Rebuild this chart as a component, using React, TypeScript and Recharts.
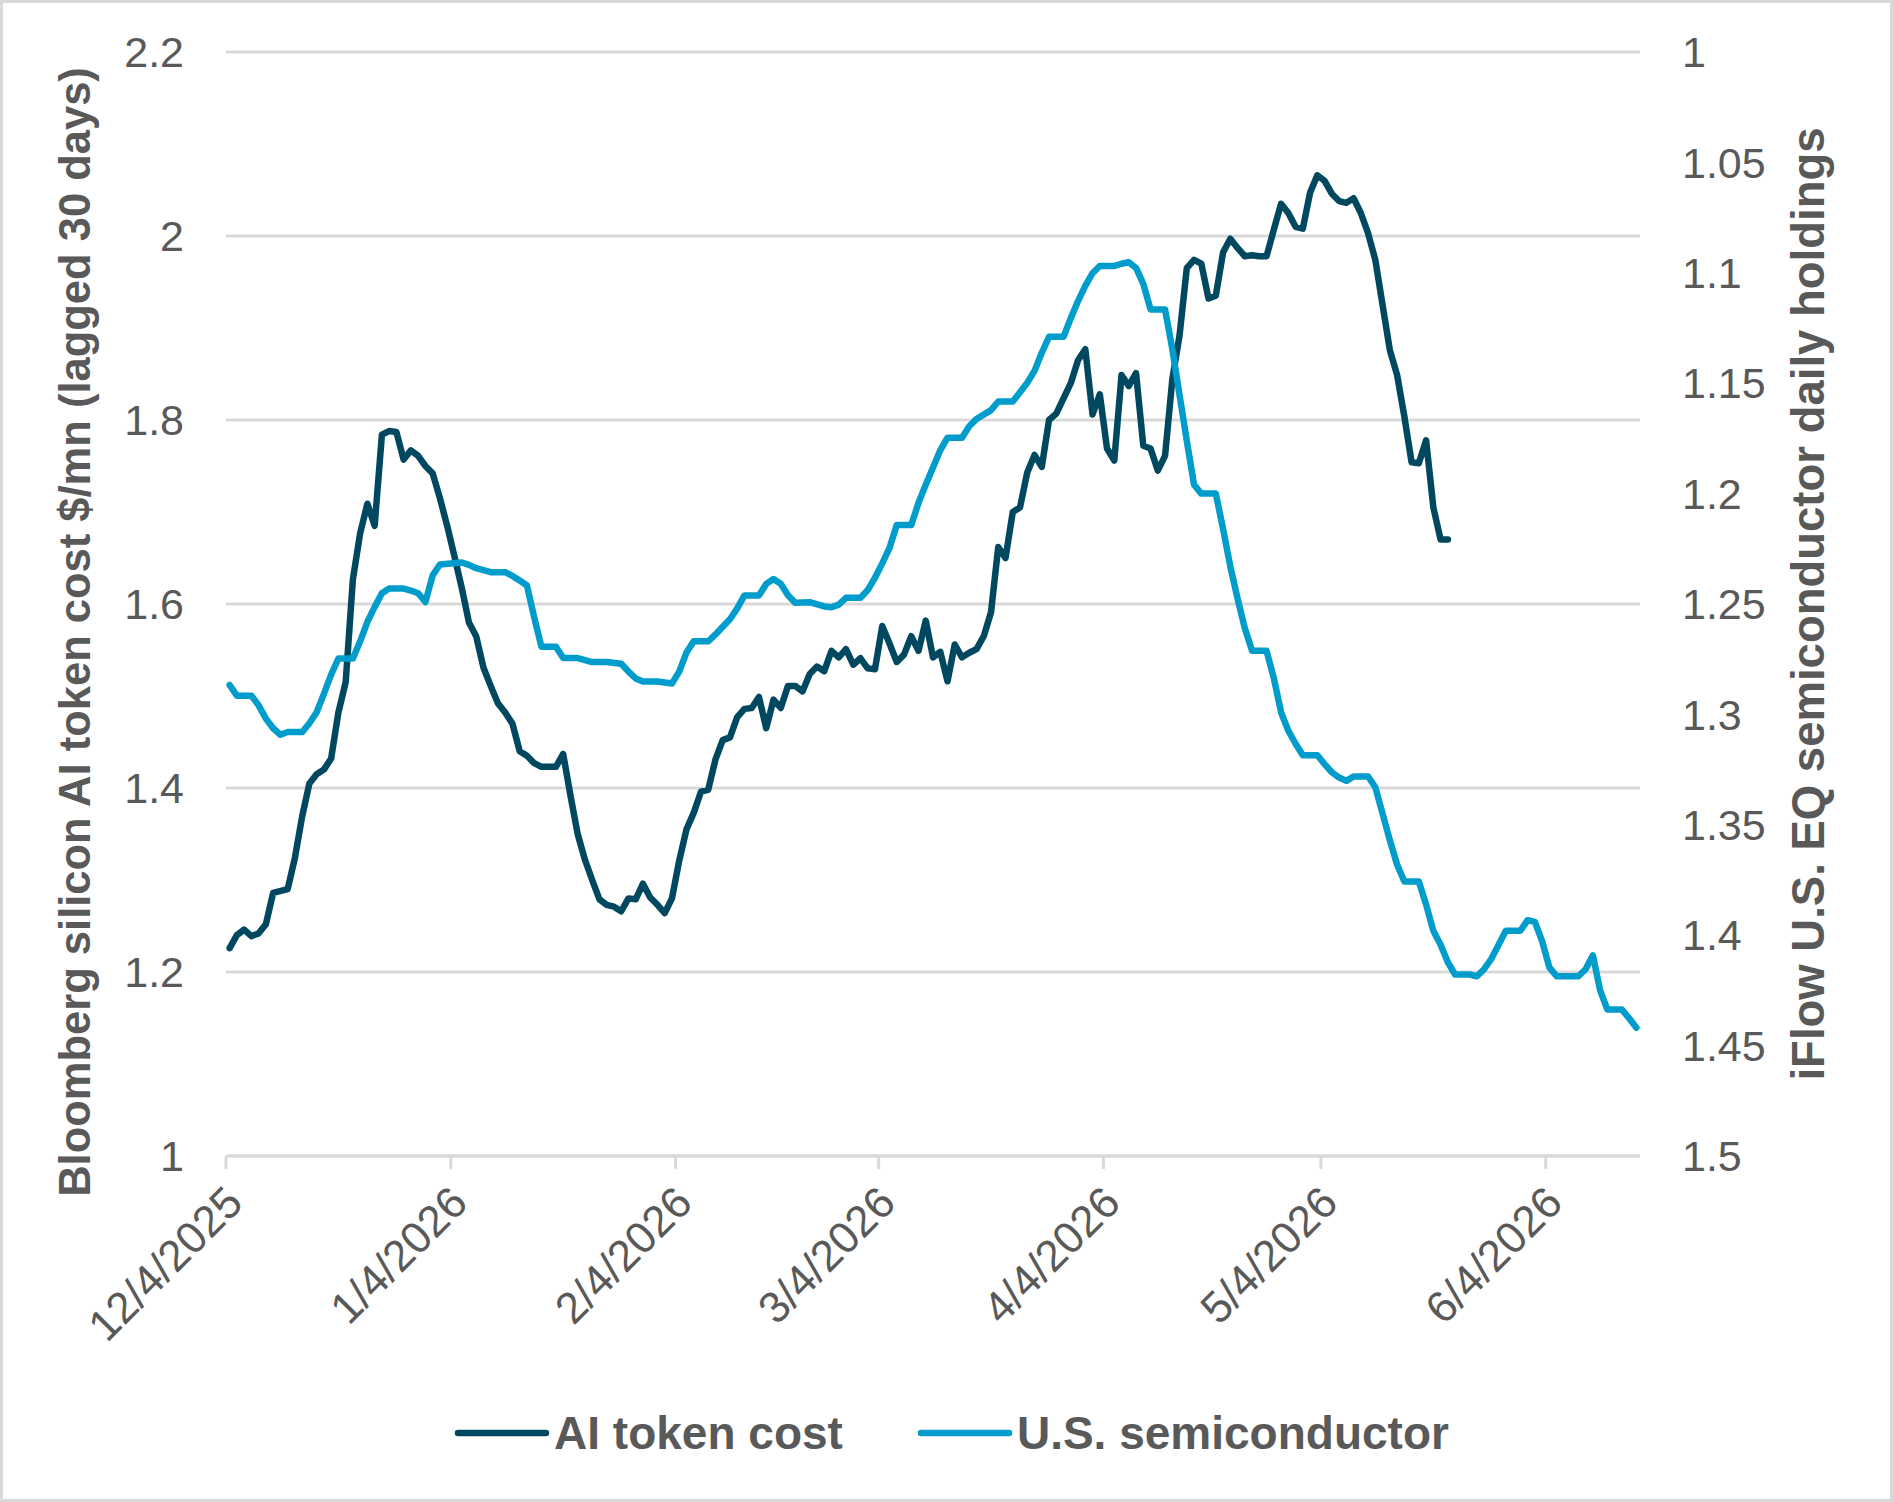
import { CartesianGrid, Legend, Line, LineChart, XAxis, YAxis } from 'recharts'

// Days counted from 12/4/2025; each series is plotted in the middle of its day slot.
const tokenDays = [
  0, 1, 2, 3, 4, 5, 6, 8, 9, 10, 11, 12, 13, 14, 15, 16, 17, 18, 19, 20, 21, 22, 23, 24, 25, 26, 27, 28, 29, 30,
  31, 32, 33, 34, 35, 36, 37, 38, 39, 40, 41, 42, 43, 45, 46, 47, 48, 49, 50, 51, 52, 53, 54, 55, 56, 57, 58, 59,
  60, 61, 62, 63, 64, 65, 66, 67, 68, 69, 70, 71, 72, 73, 74, 75, 76, 77, 78, 79, 80, 81, 82, 83, 84, 85, 86, 87,
  88, 89, 90, 91, 92, 93, 94, 95, 96, 97, 98, 99, 100, 101, 102, 103, 104, 105, 106, 107, 108, 109, 110, 111, 112,
  113, 114, 116, 117, 118, 119, 120, 121, 122, 123, 124, 125, 126, 127, 128, 129, 130, 131, 132, 133, 134, 135,
  136, 137, 138, 139, 140, 141, 142, 143, 144, 145, 146, 147, 148, 149, 150, 151, 152, 153, 154, 155, 156, 157,
  158, 159, 160, 161, 162, 163, 164, 165, 166, 167, 168,
]
const tokenCost = [
  1.226, 1.24, 1.246, 1.239, 1.242, 1.252, 1.286, 1.29, 1.324, 1.369, 1.405, 1.415, 1.42, 1.432, 1.482, 1.515,
  1.627, 1.677, 1.709, 1.685, 1.784, 1.788, 1.787, 1.757, 1.767, 1.761, 1.75, 1.742, 1.715, 1.685, 1.652, 1.618,
  1.58, 1.565, 1.531, 1.511, 1.492, 1.482, 1.47, 1.44, 1.435, 1.427, 1.423, 1.423, 1.437, 1.392, 1.35, 1.322, 1.3,
  1.279, 1.273, 1.271, 1.266, 1.28, 1.279, 1.296, 1.281, 1.273, 1.264, 1.28, 1.321, 1.355, 1.373, 1.396, 1.398,
  1.431, 1.452, 1.455, 1.477, 1.486, 1.487, 1.499, 1.465, 1.496, 1.487, 1.511, 1.511, 1.505, 1.524, 1.532, 1.527,
  1.549, 1.542, 1.551, 1.534, 1.541, 1.53, 1.529, 1.576, 1.557, 1.537, 1.545, 1.565, 1.549, 1.582, 1.542, 1.548,
  1.516, 1.556, 1.542, 1.547, 1.551, 1.565, 1.591, 1.662, 1.65, 1.7, 1.705, 1.743, 1.762, 1.749, 1.8, 1.807, 1.84,
  1.865, 1.877, 1.806, 1.828, 1.769, 1.756, 1.849, 1.837, 1.851, 1.772, 1.769, 1.745, 1.761, 1.844, 1.892, 1.965,
  1.974, 1.97, 1.932, 1.935, 1.982, 1.997, 1.987, 1.978, 1.979, 1.978, 1.978, 2.007, 2.035, 2.025, 2.01, 2.008,
  2.047, 2.066, 2.06, 2.046, 2.038, 2.036, 2.041, 2.025, 2.003, 1.974, 1.925, 1.876, 1.849, 1.804, 1.754, 1.753,
  1.778, 1.705, 1.67, 1.67,
]

const semiDays = [
  0, 1, 3, 4, 5, 6, 7, 8, 10, 11, 12, 13, 14, 15, 17, 18, 19, 20, 21, 22, 24, 25, 26, 27, 28, 29, 32, 33, 34, 36,
  38, 39, 40, 41, 42, 43, 45, 46, 48, 50, 52, 54, 55, 56, 57, 59, 61, 62, 63, 64, 66, 67, 68, 69, 70, 71, 73, 74,
  75, 76, 77, 78, 80, 82, 83, 84, 85, 87, 88, 89, 90, 91, 92, 94, 95, 96, 97, 98, 99, 101, 102, 103, 105, 106,
  108, 109, 110, 111, 112, 113, 115, 116, 117, 118, 119, 120, 122, 123, 124, 125, 126, 127, 129, 130, 131, 132,
  133, 134, 136, 137, 138, 139, 140, 141, 143, 144, 145, 146, 147, 148, 150, 151, 152, 153, 154, 155, 157, 158,
  159, 160, 161, 162, 164, 165, 166, 167, 168, 169, 171, 172, 173, 174, 175, 176, 178, 179, 180, 181, 182, 183,
  186, 187, 188, 189, 190, 192, 193, 194,
]
const semiHoldings = [
  1.2867, 1.2915, 1.2915, 1.2959, 1.3019, 1.3063, 1.3092, 1.308, 1.308, 1.304, 1.299, 1.2907, 1.282, 1.2747,
  1.2747, 1.2669, 1.2581, 1.2513, 1.2451, 1.243, 1.243, 1.2439, 1.2451, 1.2491, 1.237, 1.2321, 1.2312, 1.2323,
  1.2338, 1.2356, 1.2356, 1.2373, 1.2394, 1.2416, 1.256, 1.2694, 1.2694, 1.2745, 1.2745, 1.2763, 1.2763, 1.2771,
  1.2806, 1.2837, 1.2851, 1.2851, 1.286, 1.2806, 1.272, 1.2669, 1.2669, 1.2638, 1.2603, 1.2569, 1.252, 1.2461,
  1.2461, 1.2409, 1.2387, 1.2408, 1.246, 1.2494, 1.2492, 1.2511, 1.2515, 1.2503, 1.2472, 1.2472, 1.2437, 1.2381,
  1.2316, 1.2246, 1.2142, 1.2142, 1.2042, 1.196, 1.1882, 1.1804, 1.1747, 1.1747, 1.1695, 1.1662, 1.1622, 1.1583,
  1.1583, 1.1541, 1.1498, 1.1444, 1.1362, 1.129, 1.129, 1.1206, 1.1128, 1.1059, 1.1002, 1.0969, 1.0969, 1.0959,
  1.0952, 1.0978, 1.105, 1.1166, 1.1166, 1.1345, 1.1553, 1.1761, 1.196, 1.2, 1.2, 1.216, 1.233, 1.2475, 1.261,
  1.2712, 1.2712, 1.2836, 1.299, 1.3074, 1.3133, 1.3185, 1.3185, 1.3225, 1.3262, 1.3286, 1.3301, 1.3281, 1.3281,
  1.333, 1.345, 1.357, 1.368, 1.3757, 1.3757, 1.3861, 1.398, 1.4043, 1.4123, 1.4178, 1.4178, 1.4186, 1.4154,
  1.4107, 1.4043, 1.398, 1.398, 1.3932, 1.394, 1.4027, 1.4146, 1.4186, 1.4186, 1.4154, 1.4091, 1.425, 1.4337,
  1.4337, 1.4376, 1.4419,
]

const tickDays = [0, 31, 62, 90, 121, 151, 182]
const tickLabels = ['12/4/2025', '1/4/2026', '2/4/2026', '3/4/2026', '4/4/2026', '5/4/2026', '6/4/2026']
const costTicks = [1, 1.2, 1.4, 1.6, 1.8, 2, 2.2]
const holdingTicks = [1, 1.05, 1.1, 1.15, 1.2, 1.25, 1.3, 1.35, 1.4, 1.45, 1.5]

const FONT = '"Liberation Sans", Arial, Helvetica, sans-serif'
const TEXT = '#595959'
const GRID = '#d9d9d9'
const DARK = '#00485f'
const LIGHT = '#009dcc'

const tokenRows = tokenDays.map((d, i) => ({ x: d + 0.5, cost: tokenCost[i] }))
const semiRows = semiDays.map((d, i) => ({ x: d + 0.5, holdings: semiHoldings[i] }))

function DateTick({ x, y, payload }: any) {
  const label = tickLabels[tickDays.indexOf(payload.value)]
  return (
    <g transform={`translate(${x - 3},${y}) rotate(-45)`}>
      <text x={0} y={0} dy="0.71em" textAnchor="end" fill={TEXT} fontSize={44} fontFamily={FONT}>
        {label}
      </text>
    </g>
  )
}

function AxisTitle({ cx, cy, size, text }: any) {
  return (
    <text
      x={cx}
      y={cy}
      transform={`rotate(-90 ${cx} ${cy})`}
      textAnchor="middle"
      dominantBaseline="central"
      fill={TEXT}
      fontSize={size}
      fontWeight={700}
      fontFamily={FONT}
    >
      {text}
    </text>
  )
}

function LegendRow({ payload }: any) {
  return (
    <div
      style={{
        display: 'flex',
        justifyContent: 'center',
        alignItems: 'center',
        gap: 74,
        paddingLeft: 10,
        fontFamily: FONT,
        fontWeight: 700,
        fontSize: 46,
        lineHeight: '52px',
        color: TEXT,
      }}
    >
      {(payload || []).map((item: any) => (
        <div key={item.value} style={{ display: 'flex', alignItems: 'center' }}>
          <svg width={96} height={12}>
            <line x1={4} y1={6} x2={92} y2={6} stroke={item.color} strokeWidth={6.5} strokeLinecap="round" />
          </svg>
          <span style={{ marginLeft: 4 }}>{item.value}</span>
        </div>
      ))}
    </div>
  )
}

export default function App() {
  return (
    <div style={{ position: 'absolute', left: 0, top: 0, width: 1893, height: 1502, background: '#fff' }}>
      <LineChart width={1893} height={1502} margin={{ top: 52, right: 0, bottom: 0, left: 0 }}>
        <CartesianGrid yAxisId="cost" horizontal vertical={false} stroke={GRID} strokeWidth={3} />
        <XAxis
          dataKey="x"
          type="number"
          domain={[0, 195]}
          ticks={tickDays}
          interval={0}
          allowDataOverflow
          height={346}
          stroke={GRID}
          strokeWidth={3}
          tickSize={13}
          tickMargin={14}
          tick={<DateTick />}
        />
        <YAxis
          yAxisId="cost"
          domain={[1, 2.2]}
          ticks={costTicks}
          interval={0}
          allowDataOverflow
          width={226}
          axisLine={false}
          tickLine={false}
          tickSize={0}
          tickMargin={42}
          tick={{ fill: TEXT, fontSize: 43, fontFamily: FONT }}
          label={
            <AxisTitle cx={75} cy={632} size={43.5} text="Bloomberg silicon AI token cost $/mn (lagged 30 days)" />
          }
        />
        <YAxis
          yAxisId="holdings"
          orientation="right"
          reversed
          domain={[1, 1.5]}
          ticks={holdingTicks}
          interval={0}
          allowDataOverflow
          width={253}
          axisLine={false}
          tickLine={false}
          tickSize={0}
          tickMargin={42}
          tick={{ fill: TEXT, fontSize: 43, fontFamily: FONT, textAnchor: 'start' }}
          label={<AxisTitle cx={1808} cy={604} size={45.5} text="iFlow U.S. EQ semiconductor daily holdings" />}
        />
        <Line
          yAxisId="cost"
          data={tokenRows}
          dataKey="cost"
          name="AI token cost"
          type="linear"
          stroke={DARK}
          strokeWidth={6.5}
          strokeLinejoin="round"
          strokeLinecap="round"
          dot={false}
          isAnimationActive={false}
        />
        <Line
          yAxisId="holdings"
          data={semiRows}
          dataKey="holdings"
          name="U.S. semiconductor"
          type="linear"
          stroke={LIGHT}
          strokeWidth={6.5}
          strokeLinejoin="round"
          strokeLinecap="round"
          dot={false}
          isAnimationActive={false}
        />
        <Legend
          verticalAlign="middle"
          align="center"
          content={<LegendRow />}
          wrapperStyle={{ top: 1407, left: 0, width: 1893 }}
        />
      </LineChart>
      <div
        style={{
          position: 'absolute',
          inset: 0,
          border: `3px solid ${GRID}`,
          boxSizing: 'border-box',
          pointerEvents: 'none',
        }}
      />
    </div>
  )
}
